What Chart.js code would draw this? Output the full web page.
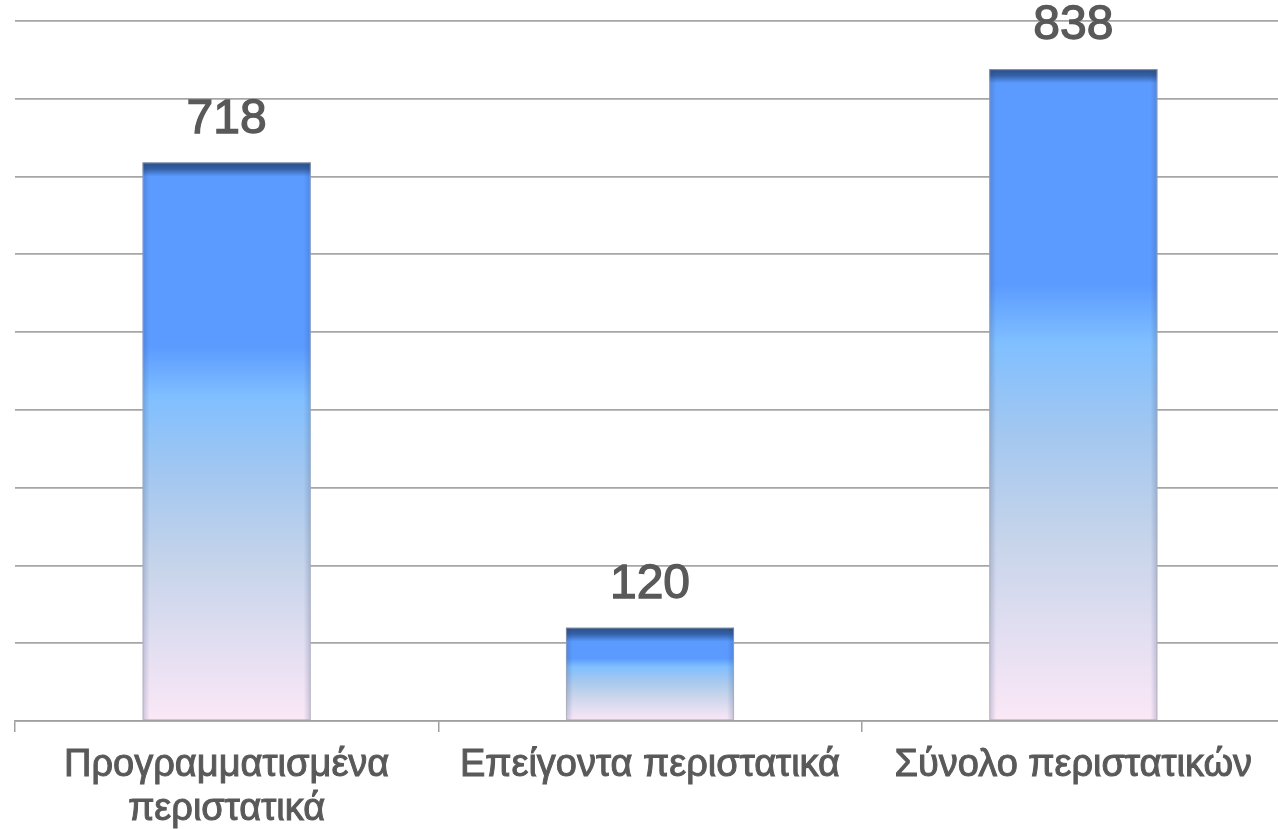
<!DOCTYPE html>
<html><head><meta charset="utf-8">
<script src="https://cdn.jsdelivr.net/npm/chart.js@4/dist/chart.umd.min.js"></script>
<style>
html,body{margin:0;padding:0;background:#fff;overflow:hidden;}
#wrap{position:absolute;left:0;top:0;width:1292px;height:829px;}
</style></head>
<body><div id="wrap"><canvas id="c" width="1292" height="829"></canvas></div>
<script>
const categories = [["Προγραμματισμένα","περιστατικά"], "Επείγοντα περιστατικά", "Σύνολο περιστατικών"];
const values = [718, 120, 838];
const yMin = 0, yMax = 900, yStep = 100;

const FONT = "'Liberation Sans', Arial, Helvetica, sans-serif";
const TEXT = '#595959';

function barGradient(ctx){
  const chart = ctx.chart;
  if (!chart.chartArea || ctx.type !== 'data') return '#5b9bff';
  const ys = chart.scales.y;
  const top = ys.getPixelForValue(ctx.parsed ? ctx.parsed.y : values[ctx.dataIndex]);
  const bot = ys.getPixelForValue(0);
  const h = Math.max(bot - top, 1);
  const g = chart.ctx.createLinearGradient(0, top, 0, bot);
  const d = Math.min(14 / h, 0.15);
  g.addColorStop(0, '#2b4f88');
  g.addColorStop(d * 0.45, '#3460a6');
  g.addColorStop(d * 0.8, '#4c86e0');
  g.addColorStop(d, '#5b9bff');
  g.addColorStop(0.33, '#5b9bff');
  g.addColorStop(0.42, '#80bfff');
  g.addColorStop(0.56, '#a3c7f0');
  g.addColorStop(0.72, '#c6d4ea');
  g.addColorStop(0.86, '#e1def1');
  g.addColorStop(1, '#fbe8f6');
  return g;
}

const edgeShade = {
  id: 'edgeShade',
  afterDatasetsDraw(chart){
    const c = chart.ctx;
    chart.getDatasetMeta(0).data.forEach(el => {
      const p = el.getProps(['x','y','base','width'], true);
      const l = p.x - p.width/2, r = p.x + p.width/2, t = p.y, b = p.base;
      const w = 7;
      let g = c.createLinearGradient(l, 0, l + w, 0);
      g.addColorStop(0, 'rgba(40,60,110,0.22)');
      g.addColorStop(1, 'rgba(40,60,110,0)');
      c.fillStyle = g; c.fillRect(l, t, w, b - t);
      g = c.createLinearGradient(r, 0, r - w, 0);
      g.addColorStop(0, 'rgba(40,60,110,0.22)');
      g.addColorStop(1, 'rgba(40,60,110,0)');
      c.fillStyle = g; c.fillRect(r - w, t, w, b - t);
      c.strokeStyle = 'rgba(170,170,180,0.6)';
      c.lineWidth = 1;
      c.strokeRect(l + 0.5, t + 0.5, p.width - 1, b - t - 1);
    });
  }
};

const valueLabels = {
  id: 'valueLabels',
  afterDatasetsDraw(chart){
    const c = chart.ctx;
    c.save();
    c.font = '48px ' + FONT;
    c.fillStyle = TEXT;
    c.strokeStyle = TEXT;
    c.lineWidth = 1.3;
    c.textAlign = 'center';
    c.textBaseline = 'alphabetic';
    chart.getDatasetMeta(0).data.forEach((el, i) => {
      c.strokeText(String(values[i]), el.x, el.y - 30);
      c.fillText(String(values[i]), el.x, el.y - 30);
    });
    c.restore();
  }
};

new Chart(document.getElementById('c'), {
  type: 'bar',
  data: {
    labels: categories,
    datasets: [{
      data: values,
      backgroundColor: barGradient,
      borderWidth: 0,
      categoryPercentage: 1.0,
      barPercentage: 0.397
    }]
  },
  options: {
    responsive: false,
    animation: false,
    layout: { padding: { left: 15, top: 21, right: 7, bottom: 0 } },
    plugins: { legend: { display: false }, tooltip: { enabled: false } },
    scales: {
      x: {
        afterFit: s => { s.height = 108; },
        grid: { offset: true, drawOnChartArea: false, drawTicks: true, tickLength: 11, color: '#a0a0a0', lineWidth: 1.5 },
        border: { display: true, color: '#a0a0a0', width: 1.5 },
        ticks: { color: TEXT, font: { family: FONT, size: 38, lineHeight: 1.15 }, padding: 12, maxRotation: 0, autoSkip: false,
                 textStrokeColor: TEXT, textStrokeWidth: 1 }
      },
      y: {
        min: yMin, max: yMax,
        ticks: { display: false, stepSize: yStep },
        grid: { color: '#a6a6a6', lineWidth: 1.8, drawTicks: false },
        border: { display: false }
      }
    }
  },
  plugins: [edgeShade, valueLabels]
});
</script>
</body></html>
